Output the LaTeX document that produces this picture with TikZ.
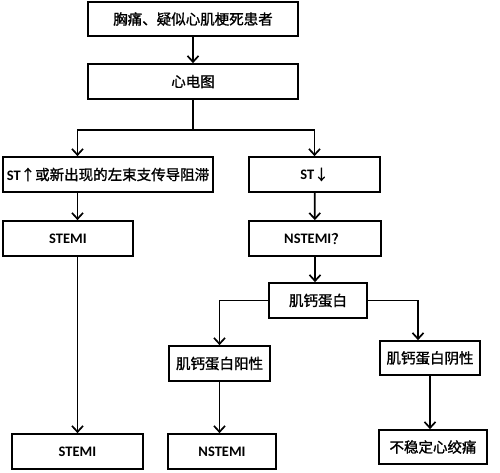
\documentclass[tikz,border=0pt]{standalone}
\usepackage{fontspec}
\setmainfont{Carlito}
\newfontfamily\cjk{Noto Sans CJK SC}[FakeBold=1.2]
\usetikzlibrary{arrows.meta,calc}
\newcommand{\zh}[1]{{\cjk #1}}

\begin{document}
\begin{tikzpicture}[
    x=1pt, y=-1pt,
    every node/.style={font=\fontsize{14.5}{16}\selectfont},
    box/.style={rectangle, draw, line width=1.7pt, minimum height=35pt, inner sep=2pt},
    arr/.style={line width=1.7pt, -{Straight Barb[length=6pt,width=11pt,line width=1.7pt]}},
    link/.style={line width=1.7pt}
  ]
  \useasboundingbox (0,0) rectangle (500,472);
  % top of the chart
  \node[box, minimum width=210pt, minimum height=34pt] (patient) at (193,19) {\zh{胸痛、疑似心肌梗死患者}};
  \node[box, minimum width=210pt] (ecg) at (193,81.5) {\zh{心电图}};
  % two branches
  \node[box, minimum width=210pt] (stup) at (108,174.5) {\textbf{ST}\zh{↑或新出现的左束支传导阻滞}};
  \node[box, minimum width=131pt] (stdown) at (314.5,174.5) {\textbf{ST}\zh{↓}};
  \node[box, minimum width=130pt] (stemi) at (68,238.5) {\textbf{STEMI}};
  \node[box, minimum width=132pt] (nstemiq) at (315,238.5) {\textbf{NSTEMI}\zh{？}};
  \node[box, minimum width=98pt] (tnt) at (318,300.5) {\zh{肌钙蛋白}};
  \node[box, minimum width=101pt] (tntpos) at (219.5,363.5) {\zh{肌钙蛋白阳性}};
  \node[box, minimum width=100pt, minimum height=34pt] (tntneg) at (430,358) {\zh{肌钙蛋白阴性}};
  % results
  \node[box, minimum width=131pt] (stemiend) at (77.5,451.5) {\textbf{STEMI}};
  \node[box, minimum width=108pt] (nstemiend) at (222,451.5) {\textbf{NSTEMI}};
  \node[box, minimum width=108pt, minimum height=34pt] (ua) at (433,447) {\zh{不稳定心绞痛}};

  \draw[arr] (patient) -- (ecg);
  \draw[link] (ecg.south) -- ++(0,30) coordinate (split);
  \draw[arr] (split) -| (stemiend.north |- stup.north);
  \draw[arr] (split) -| (stdown.north);
  \draw[arr] (stemiend.north |- stup.south) -- (stemiend.north |- stemi.north);
  \draw[arr] (stdown) -- (nstemiq);
  \draw[arr] (nstemiq.south) -- (nstemiq.south |- tnt.north);
  \draw[arr] (tnt.west) -| (tntpos.north);
  \draw[arr] (tnt.east) -| ([xshift=-12pt]tntneg.north);
  \draw[arr] (stemiend.north |- stemi.south) -- (stemiend.north);
  \draw[arr] (tntpos.south) -- (tntpos.south |- nstemiend.north);
  \draw[arr] (tntneg.south) -- (tntneg.south |- ua.north);
\end{tikzpicture}
\end{document}
